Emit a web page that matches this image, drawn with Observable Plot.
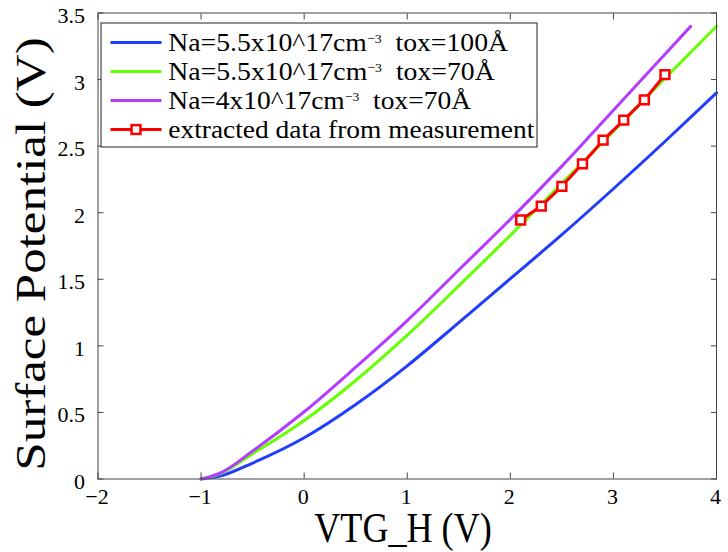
<!DOCTYPE html>
<html><head><meta charset="utf-8">
<script src="https://cdn.jsdelivr.net/npm/d3@7"></script>
<script src="https://cdn.jsdelivr.net/npm/@observablehq/plot@0.6"></script>
<style>
body{margin:0;background:#fff}
#chart svg{font-family:"Liberation Serif","Times New Roman",serif;display:block}
</style>
</head><body><div id="chart"></div>
<script>
// ---- data ----
const xTicks = [-2, -1, 0, 1, 2, 3, 4];
const xTickLabels = ["−2", "−1", "0", "1", "2", "3", "4"];
const yTicks = [0, 0.5, 1, 1.5, 2, 2.5, 3, 3.5];
const yTickLabels = ["0", "0.5", "1", "1.5", "2", "2.5", "3", "3.5"];

const blueX   = [-1, -0.8, -0.5, 0, 0.5, 1, 1.5, 2, 2.5, 3, 3.5, 4];
const blueY   = [0, 0.025, 0.12, 0.31, 0.56, 0.85, 1.175, 1.505, 1.835, 2.18, 2.535, 2.90];
const greenX  = [-1, -0.8, -0.5, 0, 0.5, 1, 1.5, 2, 2.5, 3, 3.5, 4];
const greenY  = [0, 0.045, 0.19, 0.44, 0.74, 1.08, 1.45, 1.83, 2.22, 2.61, 3.01, 3.40];
const purpleX = [-1, -0.8, -0.5, 0, 0.5, 1, 1.5, 2, 2.5, 3, 3.5, 3.75];
const purpleY = [0, 0.05, 0.21, 0.505, 0.84, 1.19, 1.57, 1.95, 2.35, 2.77, 3.19, 3.40];
const measX   = [2.1, 2.3, 2.5, 2.7, 2.9, 3.1, 3.3, 3.5];
const measY   = [1.945, 2.05, 2.198, 2.367, 2.545, 2.695, 2.847, 3.037];

const legendPre  = ["Na=5.5x10^17cm", "Na=5.5x10^17cm", "Na=4x10^17cm", "extracted data from measurement"];
const legendSup  = ["−3", "−3", "−3", ""];
const legendPost = ["\u00a0\u00a0tox=100Å", "\u00a0\u00a0tox=70Å", "\u00a0\u00a0tox=70Å", ""];
const colors = ["#1f3cff", "#66ff00", "#b43cff", "#ff0000"];

const xLabel = "VTG_H (V)";
const yLabel = "Surface Potential (V)";

// ---- build ----
const toRows = (xs, ys) => xs.map((x, i) => ({x, y: ys[i]}));
const blue = toRows(blueX, blueY), green = toRows(greenX, greenY),
      purple = toRows(purpleX, purpleY), meas = toRows(measX, measY);

const axisColor = "#444";
const chart = Plot.plot({
  width: 728, height: 552,
  marginLeft: 97.5, marginRight: 12, marginTop: 12.5, marginBottom: 73.5,
  style: {fontFamily: "Liberation Serif", background: "white", color: "black", overflow: "visible"},
  x: {domain: [-2, 4], label: null},
  y: {domain: [0, 3.5], label: null},
  marks: [
    Plot.line(blue,   {x: "x", y: "y", stroke: colors[0], strokeWidth: 3, curve: "monotone-x"}),
    Plot.line(green,  {x: "x", y: "y", stroke: colors[1], strokeWidth: 3, curve: "monotone-x"}),
    Plot.line(purple, {x: "x", y: "y", stroke: colors[2], strokeWidth: 3, curve: "monotone-x"}),
    Plot.line(meas,   {x: "x", y: "y", stroke: colors[3], strokeWidth: 3}),
    Plot.dot(meas,    {x: "x", y: "y", symbol: "square", r: 5, fill: "white", stroke: colors[3], strokeWidth: 2.5}),
    Plot.frame({stroke: axisColor, strokeWidth: 1}),
    // inward ticks on all four sides
    Plot.axisX(xTicks, {anchor: "bottom", tickSize: 6, dy: -6, tickFormat: () => "", label: null, stroke: axisColor}),
    Plot.axisX(xTicks, {anchor: "top", tickSize: 6, dy: 6, tickFormat: () => "", label: null, stroke: axisColor}),
    Plot.axisY(yTicks, {anchor: "left", tickSize: 6, dx: 6, tickFormat: () => "", label: null, stroke: axisColor}),
    Plot.axisY(yTicks, {anchor: "right", tickSize: 6, dx: -6, tickFormat: () => "", label: null, stroke: axisColor}),
    // tick labels
    Plot.axisX(xTicks, {anchor: "bottom", tickSize: 0, tickPadding: 9, fontSize: 22, label: null, dx: -1,
      tickFormat: d => xTickLabels[xTicks.indexOf(d)]}),
    Plot.axisY(yTicks, {anchor: "left", tickSize: 0, tickPadding: 13, fontSize: 22, label: null, dy: 3,
      tickFormat: d => yTickLabels[yTicks.indexOf(d)]})
  ]
});
document.getElementById("chart").append(chart);

const svg = d3.select(chart);
const font = "Liberation Serif";

// axis titles (slightly condensed like the reference)
svg.append("text")
  .attr("transform", "translate(403,542) scale(0.86,1)")
  .attr("text-anchor", "middle").attr("font-family", font).attr("font-size", 42)
  .attr("fill", "black").text(xLabel);
svg.append("text")
  .attr("transform", "translate(45,254) scale(0.82,1) rotate(-90)")
  .attr("text-anchor", "middle").attr("font-family", font).attr("font-size", 51)
  .attr("fill", "black").text(yLabel);

// legend
const lg = svg.append("g").attr("text-anchor", "start");
lg.append("rect").attr("x", 101).attr("y", 23).attr("width", 436).attr("height", 124)
  .attr("fill", "white").attr("stroke", "#222").attr("stroke-width", 1);
const targetW = [340, 327, 303, 367];
const textX = 168.3;
legendPre.forEach((pre, i) => {
  const cy = 42.5 + 29 * i;
  lg.append("line").attr("x1", 110.5).attr("x2", 161.5).attr("y1", cy).attr("y2", cy)
    .attr("stroke", colors[i]).attr("stroke-width", 3);
  if (i === 3) {
    const s = 5 * Math.sqrt(Math.PI);
    lg.append("rect").attr("x", 136 - s / 2).attr("y", cy - s / 2).attr("width", s).attr("height", s)
      .attr("fill", "white").attr("stroke", colors[3]).attr("stroke-width", 2.5);
  }
  const t = lg.append("text").attr("x", textX).attr("y", cy + 8.7)
    .attr("text-anchor", "start")
    .attr("font-family", font).attr("font-size", 26).attr("fill", "black");
  t.append("tspan").text(pre);
  if (legendSup[i]) {
    t.append("tspan").attr("font-size", 13).attr("dy", -8.5).text(legendSup[i]);
    t.append("tspan").attr("dy", 8.5).text(legendPost[i]);
  }
  const bb = t.node().getBBox();
  const sx = targetW[i] / bb.width;
  t.attr("transform", `translate(${bb.x * (1 - sx)},0) scale(${sx},1)`);
});
</script>
</body></html>
